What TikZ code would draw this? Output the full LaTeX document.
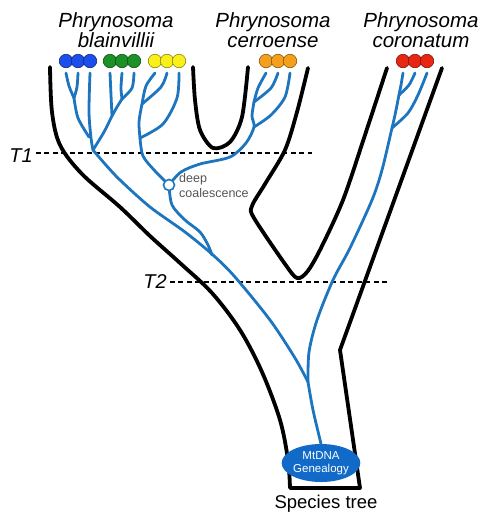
\documentclass[tikz,border=0pt]{standalone}
\usepackage{fontspec}
\setmainfont{Liberation Sans}
\usepackage{xcolor}
\usetikzlibrary{calc}
\usetikzlibrary{shapes.geometric}
\definecolor{geneblue}{RGB}{28,117,190}
\definecolor{ovalblue}{RGB}{18,106,200}
\definecolor{dotblue}{RGB}{28,78,235}
\definecolor{dotgreen}{RGB}{28,145,38}
\definecolor{dotyellow}{RGB}{250,240,25}
\definecolor{dotorange}{RGB}{245,160,28}
\definecolor{dotred}{RGB}{232,38,20}
\definecolor{labelgray}{RGB}{85,85,85}

\begin{document}
\begin{tikzpicture}[x=1pt,y=-1pt,
  species/.style={line width=3.8pt,line cap=round,line join=round},
  gene/.style={draw=geneblue,line width=2.8pt,line cap=round,line join=round},
  allele/.style={circle,draw=#1!55!black,fill=#1,line width=0.6pt,minimum size=13.5pt,inner sep=0pt},
  taxon/.style={align=center,inner sep=0pt,font=\fontsize{20.5}{20}\selectfont\itshape},
  slice/.style={dash pattern=on 5pt off 3.5pt,line width=1.3pt},
  timelabel/.style={inner sep=3pt,font=\fontsize{20}{20}\selectfont\itshape}]

\useasboundingbox (0,0) rectangle (482,512);

\node[taxon] (blain) at (116,30.5) {Phrynosoma\\blainvillii};
\node[taxon] (cerro) at (273,30.5) {Phrynosoma\\cerroense};
\node[taxon] (coron) at (421,30.5) {Phrynosoma\\coronatum};

\node[timelabel] (t1) at (21,156) {T1};
\node[timelabel] (t2) at (155,282) {T2};
\coordinate (t1end) at (312,153);
\coordinate (t2end) at (390,282);
\draw[slice] (t1.east |- t1end) -- (t1end);
\draw[slice] (t2.east |- t2end) -- (t2end);

\draw[species] plot[smooth,tension=0.55] coordinates {(50,67) (52,112) (60,145) (82,174) (120,207) (150,236) (180,263) (212,293) (240,330) (262,372) (280,420) (288,460) (290,488)} -- (360,488) -- (340,350) -- (442,68);
\draw[species] plot[smooth] coordinates {(193,67) (195,100) (200,130) (213,148) (230,142) (242,117) (248,67)};
\draw[species] plot[smooth,tension=0.5] coordinates {(308,68) (297,112) (285,150) (265,184) (252,206) (254,218) (285,264) (297,278) (307,272) (320,250) (343,200) (365,135) (387,68)};

\foreach \n/\x in {1/66,2/78,3/90} \node[allele=dotblue] (b\n) at (\x,61) {};
\foreach \n/\x in {1/110,2/122,3/134} \node[allele=dotgreen] (g\n) at (\x,61) {};
\foreach \n/\x in {1/155,2/167,3/179} \node[allele=dotyellow] (y\n) at (\x,61) {};
\foreach \n/\x in {1/266,2/278,3/290} \node[allele=dotorange] (o\n) at (\x,61) {};
\foreach \n/\x in {1/403,2/415,3/427} \node[allele=dotred] (r\n) at (\x,61) {};
\foreach \d in {b1,b2,b3,g1,g2,g3,y1,y2,y3,o1,o2,o3,r1,r2,r3}
  \coordinate (\d t) at ($(\d.south)+(0,5)$);

\node[ellipse,fill=ovalblue,minimum width=59pt,minimum height=38pt,inner sep=0pt,text=white,align=center,font=\fontsize{11.5}{12.5}\selectfont] (mtdna) at (321,463) {MtDNA\\Genealogy};

\coordinate (bA) at (74,98);
\coordinate (bg) at (93,150);
\coordinate (gA) at (112,116);
\coordinate (gB) at (122,99);
\coordinate (yA) at (142,104);
\coordinate (yB) at (140,138);
\coordinate (oA) at (254,102);
\coordinate (oB) at (254,127);
\coordinate (rA) at (399,95);
\coordinate (rB) at (392,128);
\coordinate (root) at (308,382);
\coordinate (deep) at (169,185);

\draw[gene] plot[smooth] coordinates {(b1t) (69,86) (bA)};
\draw[gene] plot[smooth] coordinates {(b2t) (77,87) (bA)};
\draw[gene] plot[smooth] coordinates {(bA) (78,118) (89,137)};
\draw[gene] plot[smooth] coordinates {(b3t) (89,112) (91,138) (bg)};
\draw[gene] plot[smooth] coordinates {(g1t) (111,95) (gA)};
\draw[gene] plot[smooth] coordinates {(g2t) (121,88) (gB)};
\draw[gene] plot[smooth] coordinates {(g3t) (132,88) (gB)};
\draw[gene] plot[smooth] coordinates {(gB) (117,107) (gA) (104,132) (bg)};
\draw[gene] plot[smooth] coordinates {(bg) (105,164) (120,180) (150,207) (185,232) (213,255) (235,277) (270,320) (295,358) (root)};

\draw[gene] plot[smooth] coordinates {(y1t) (146,86) (yA) (139,122) (yB)};
\draw[gene] plot[smooth] coordinates {(y2t) (161,87) (yA)};
\draw[gene] plot[smooth] coordinates {(y3t) (177,98) (163,124) (yB)};
\draw[gene] plot[smooth] coordinates {(yB) (143,156) (155,171) (deep)};

\draw[gene] plot[smooth] coordinates {(o1t) (258,88) (oA)};
\draw[gene] plot[smooth] coordinates {(o2t) (271,88) (oA)};
\draw[gene] plot[smooth] coordinates {(o3t) (285,97) (271,115) (oB)};
\draw[gene] plot[smooth] coordinates {(oA) (252,116) (oB) (246,143) (230,157) (200,164) (181,172) (deep)};
\draw[gene] plot[smooth] coordinates {(deep) (172,205) (185,220) (200,232) (208,245) (212,255)};

\draw[gene] plot[smooth] coordinates {(r1t) (401,85) (rA)};
\draw[gene] plot[smooth] coordinates {(r2t) (409,85) (rA)};
\draw[gene] plot[smooth] coordinates {(r3t) (418,95) (408,113) (rB)};
\draw[gene] plot[smooth] coordinates {(rA) (395,115) (rB) (382,170) (372,200) (350,248) (333,280) (317,320) (309,352) (root)};
\draw[gene] plot[smooth] coordinates {(root) (313,410) (mtdna.north)};

\node[circle,draw=geneblue,fill=white,line width=1.6pt,minimum size=11pt,inner sep=0pt] (coal) at (deep) {};
\node[anchor=west,align=left,inner sep=0pt,text=labelgray,font=\fontsize{12.5}{15.5}\selectfont] (coallabel) at (179,185.5) {deep\\coalescence};

\node[anchor=base,inner sep=0pt,font=\fontsize{18.5}{18.5}\selectfont] (sptree) at (326,508) {Species tree};

\end{tikzpicture}
\end{document}
